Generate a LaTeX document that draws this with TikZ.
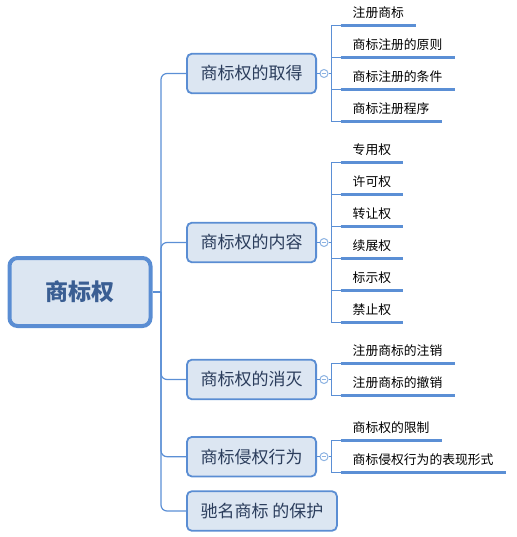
\documentclass[tikz,border=0pt]{standalone}
\usepackage{fontspec}
\newfontfamily\cjk{Noto Sans CJK SC}
\usetikzlibrary{calc}
\definecolor{linkblue}{HTML}{5B8FD5}
\definecolor{boxfill}{HTML}{DCE6F2}
\definecolor{boxline}{HTML}{5A8DD3}
\definecolor{dotblue}{HTML}{8DB3E2}
\definecolor{headtext}{HTML}{3A5E93}
\definecolor{topictext}{HTML}{2B3D5C}

\begin{document}
\begin{tikzpicture}[x=1pt, y=-1pt,
    link/.style={draw=linkblue, line width=1.2pt},
    underl/.style={draw=linkblue, line width=3pt},
    root/.style={draw=boxline, fill=boxfill, line width=4pt, rounded corners=8pt,
        minimum width=141pt, minimum height=68pt, text=headtext,
        font=\cjk\bfseries\fontsize{23}{26}\selectfont},
    topic/.style={draw=boxline, fill=boxfill, line width=1.8pt, rounded corners=5pt,
        minimum height=39.6pt, inner xsep=13.6pt, anchor=west, text=topictext,
        font=\cjk\fontsize{17}{20}\selectfont},
    leaf/.style={anchor=south west, inner xsep=12pt, inner ysep=5pt, text height=10pt,
        text depth=3pt, font=\cjk\fontsize{12.8}{15}\selectfont},
    dot/.style={circle, draw=dotblue, fill=white, line width=1pt, minimum size=8pt, inner sep=0pt,
        path picture={\draw[dotblue, line width=0.8pt]
            ([xshift=1.6pt]path picture bounding box.west) -- ([xshift=-1.6pt]path picture bounding box.east);}}]
    \useasboundingbox (0,0) rectangle (516,537);

    \node[root] (tm) at (80,292) {商标权};
    \coordinate (hub) at (161,292);

    \node[topic] (acq) at (186,73.5) {商标权的取得};
    \node[topic] (cont) at (186,242.5) {商标权的内容};
    \node[topic] (ext) at (186,379.5) {商标权的消灭};
    \node[topic] (inf) at (186,456.7) {商标侵权行为};
    \node[topic] (prot) at (186,511) {驰名商标 的保护};

    \draw[link] (tm.east) -- (hub);
    \foreach \t in {acq,cont,ext,inf,prot}
        \draw[link, rounded corners=6pt] (hub) |- (\t.west);

    \foreach \t in {acq,cont,ext,inf} {
        \node[dot] (\t-dot) at ($(\t.east)+(7,0)$) {};
        \coordinate (\t-j) at ($(\t-dot.east)+(3,0)$);
        \draw[link] (\t.east) -- (\t-dot.west);
        \draw[link] (\t-dot.east) -- (\t-j);
    }

    \foreach \txt [count=\i] in {注册商标, 商标注册的原则, 商标注册的条件, 商标注册程序} {
        \node[leaf] (acq-\i) at ($(acq-j)+(9,{(\i-2.5)*32})$) {\txt};
        \draw[link] (acq-j) |- (acq-\i.south west);
        \draw[underl] (acq-\i.south west) -- (acq-\i.south east);
    }

    \foreach \txt [count=\i] in {专用权, 许可权, 转让权, 续展权, 标示权, 禁止权} {
        \node[leaf] (cont-\i) at ($(cont-j)+(9,{(\i-3.5)*32})$) {\txt};
        \draw[link] (cont-j) |- (cont-\i.south west);
        \draw[underl] (cont-\i.south west) -- (cont-\i.south east);
    }

    \foreach \txt [count=\i] in {注册商标的注销, 注册商标的撤销} {
        \node[leaf] (ext-\i) at ($(ext-j)+(9,{(\i-1.5)*32})$) {\txt};
        \draw[link] (ext-j) |- (ext-\i.south west);
        \draw[underl] (ext-\i.south west) -- (ext-\i.south east);
    }

    \foreach \txt [count=\i] in {商标权的限制, 商标侵权行为的表现形式} {
        \node[leaf] (inf-\i) at ($(inf-j)+(9,{(\i-1.5)*32})$) {\txt};
        \draw[link] (inf-j) |- (inf-\i.south west);
        \draw[underl] (inf-\i.south west) -- (inf-\i.south east);
    }
\end{tikzpicture}
\end{document}
